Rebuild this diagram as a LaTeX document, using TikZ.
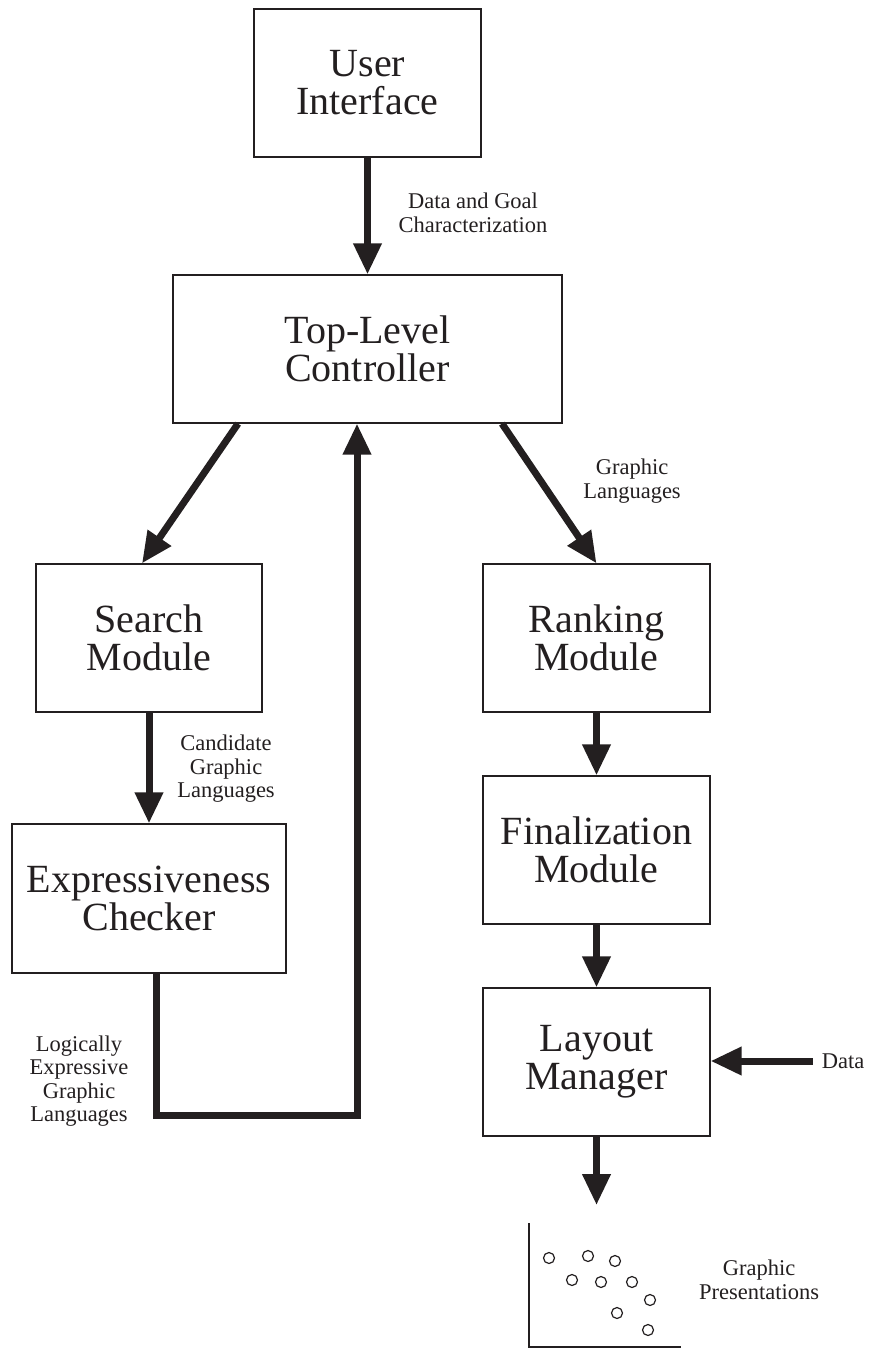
\documentclass[tikz,border=0pt]{standalone}
\usepackage{fontspec}
\setmainfont{Liberation Serif}
\usetikzlibrary{arrows.meta,calc}
\definecolor{ink}{RGB}{35,31,32}
\begin{document}
\begin{tikzpicture}[x=1pt,y=-1pt,
  box/.style={draw=ink,line width=1.3pt,minimum width=227pt,minimum height=148pt,
    inner sep=0pt,align=center,font=\fontsize{40}{38}\selectfont,text=ink},
  lbl/.style={align=center,inner sep=0pt,font=\fontsize{22.5}{23.5}\selectfont,text=ink},
  flow/.style={draw=ink,line width=7pt,line join=miter,-{Triangle[length=31pt,width=27pt]}},
  axisline/.style={draw=ink,line width=2.6pt,line join=miter},
  dot/.style={draw=ink,line width=1.2pt}
]
\useasboundingbox (0,0) rectangle (872,1348);

% boxes
\node[box] (ui)  at (367.5,83)  {User\\Interface};
\node[box,minimum width=389pt] (tlc) at (367.5,349) {Top-Level\\Controller};
\node[box,minimum width=226pt] (sm)  at (149,638)  {Search\\Module};
\node[box] (rm)  at (596.5,638) {Ranking\\Module};
\node[box] (fm)  at (596.5,850) {Finalization\\Module};
\node[box,minimum width=274pt,minimum height=149pt] (ec) at (149,898.5) {Expressiveness\\Checker};
\node[box] (lm)  at (596.5,1062) {Layout\\Manager};

% labels
\node[lbl] (l1) at (473,213)  {Data and Goal\\Characterization};
\node[lbl] (l2) at (632,481)  {Graphic\\Languages};
\node[lbl] (l3) at (226,769)  {Candidate\\Graphic\\Languages};
\node[lbl] (l4) at (79,1081)  {Logically\\Expressive\\Graphic\\Languages};
\node[lbl] (data) at (843,1061) {Data};
\node[lbl] (l6) at (759,1280) {Graphic\\Presentations};

% connectors
\draw[flow] (ui.south) -- (tlc.north);
\draw[flow] ([xshift=-129.5pt]tlc.south) -- ([xshift=-7pt]sm.north);
\draw[flow] ([xshift=134.5pt]tlc.south) -- (rm.north);
\draw[flow] (sm.south) -- (ec.north);
\draw[flow] (rm.south) -- (fm.north);
\draw[flow] (fm.south) -- (lm.north);
\draw[flow] ([xshift=-9pt]data.west) -- (lm.east |- data.west);

\coordinate (fbcorner) at (357,1115);
\draw[flow] ([xshift=7pt]ec.south) |- (fbcorner) -- (fbcorner |- tlc.south);

% graphic presentation plot
\coordinate (plottop) at (596.5,1205);
\draw[flow] (lm.south) -- (plottop);
\draw[axisline] (529,1223) -- (529,1347) -- (681,1347);
\foreach \px/\py in {549/1258,588/1256,615/1261,572/1280,601/1282,632/1282,650/1300,617/1313,648/1330}
  \draw[dot] (\px,\py) circle[radius=5.5pt];
\end{tikzpicture}
\end{document}
